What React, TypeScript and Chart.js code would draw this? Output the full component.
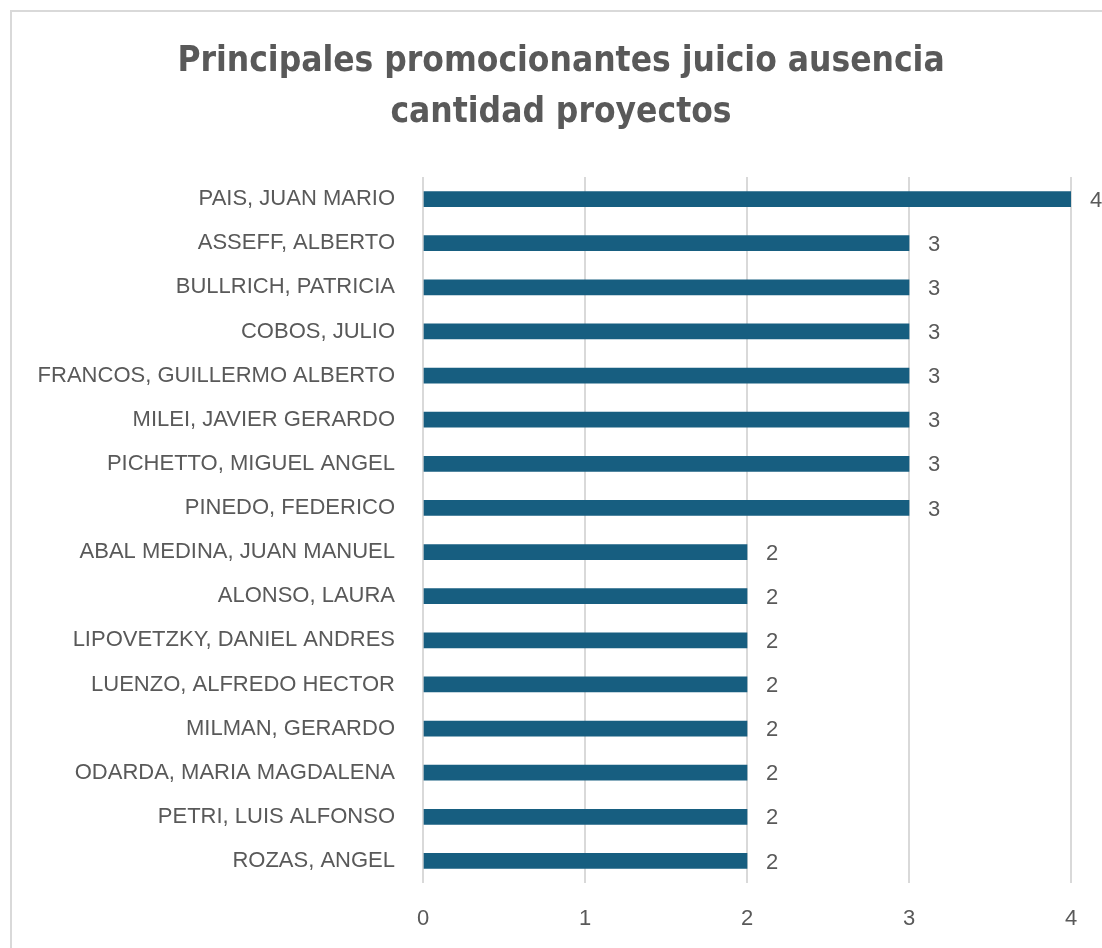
import React, { useEffect, useRef } from 'react';
import { Chart, registerables } from 'chart.js';

Chart.register(...registerables);

const categories = [
  'PAIS, JUAN MARIO',
  'ASSEFF, ALBERTO',
  'BULLRICH, PATRICIA',
  'COBOS, JULIO',
  'FRANCOS, GUILLERMO ALBERTO',
  'MILEI, JAVIER GERARDO',
  'PICHETTO, MIGUEL ANGEL',
  'PINEDO, FEDERICO',
  'ABAL MEDINA, JUAN MANUEL',
  'ALONSO, LAURA',
  'LIPOVETZKY, DANIEL ANDRES',
  'LUENZO, ALFREDO HECTOR',
  'MILMAN, GERARDO',
  'ODARDA, MARIA MAGDALENA',
  'PETRI, LUIS ALFONSO',
  'ROZAS, ANGEL',
];
const projectCounts = [4, 3, 3, 3, 3, 3, 3, 3, 2, 2, 2, 2, 2, 2, 2, 2];
const titleLines = ['Principales promocionantes juicio ausencia', 'cantidad proyectos'];
const xMin = 0;
const xMax = 4;
const xStep = 1;

const TEXT = '#595959';
const GRID = '#d9d9d9';
const BAR = '#175e80';
const LABEL_FONT = '"Liberation Sans", Arial, sans-serif';
const TITLE_FONT = '"Liberation Sans Narrow", "DejaVu Sans Condensed", "Liberation Sans", sans-serif';

const valueLabels = {
  id: 'valueLabels',
  afterDatasetsDraw(chart: any) {
    const ctx = chart.ctx;
    const meta = chart.getDatasetMeta(0);
    ctx.save();
    ctx.fillStyle = TEXT;
    ctx.font = `22px ${LABEL_FONT}`;
    ctx.textAlign = 'left';
    ctx.textBaseline = 'middle';
    meta.data.forEach((el: any, i: number) => {
      ctx.fillText(String(chart.data.datasets[0].data[i]), el.x + 19, el.y + 1.5);
    });
    ctx.restore();
  },
};

const frameTitle = {
  id: 'frameTitle',
  afterDraw(chart: any) {
    const ctx = chart.ctx;
    ctx.save();
    ctx.fillStyle = TEXT;
    ctx.font = `bold 35px ${TITLE_FONT}`;
    ctx.textAlign = 'center';
    ctx.textBaseline = 'middle';
    const cx = chart.width / 2 + 10;
    titleLines.forEach((line, i) => {
      ctx.fillText(line, cx, 62 + i * 51);
    });
    ctx.restore();
  },
};

export default function App() {
  const ref = useRef<HTMLCanvasElement | null>(null);

  useEffect(() => {
    if (!ref.current) return;
    const chart = new Chart(ref.current, {
      type: 'bar',
      data: {
        labels: categories,
        datasets: [
          {
            data: projectCounts,
            backgroundColor: BAR,
            borderWidth: 0,
            barThickness: 15,
          },
        ],
      },
      options: {
        indexAxis: 'y',
        responsive: false,
        animation: false,
        layout: { padding: { top: 177, left: 20, right: 31, bottom: 0 } },
        plugins: {
          legend: { display: false },
          tooltip: { enabled: false },
          title: { display: false },
        },
        scales: {
          x: {
            type: 'linear',
            min: xMin,
            max: xMax,
            ticks: {
              stepSize: xStep,
              color: TEXT,
              font: { family: LABEL_FONT, size: 22 },
              padding: 23,
            },
            grid: { color: GRID, lineWidth: 2, drawTicks: false },
            border: { display: false },
            afterFit(scale: any) {
              scale.height = 65;
            },
          },
          y: {
            type: 'category',
            ticks: {
              color: TEXT,
              font: { family: LABEL_FONT, size: 22 },
              padding: 28,
              autoSkip: false,
            },
            grid: { display: false, drawTicks: false },
            border: { display: false },
            afterFit(scale: any) {
              scale.width = 403;
            },
          },
        },
      },
      plugins: [valueLabels, frameTitle],
    });
    return () => chart.destroy();
  }, []);

  return (
    <div
      style={{
        position: 'fixed',
        left: 0,
        top: 0,
        width: 1102,
        height: 948,
        overflow: 'hidden',
        background: '#ffffff',
      }}
    >
      <div
        style={{
          position: 'absolute',
          left: 10,
          top: 10,
          width: 1200,
          height: 1100,
          border: `2px solid ${GRID}`,
          boxSizing: 'border-box',
        }}
      />
      <canvas ref={ref} width={1102} height={948} style={{ position: 'absolute', left: 0, top: 0 }} />
    </div>
  );
}
